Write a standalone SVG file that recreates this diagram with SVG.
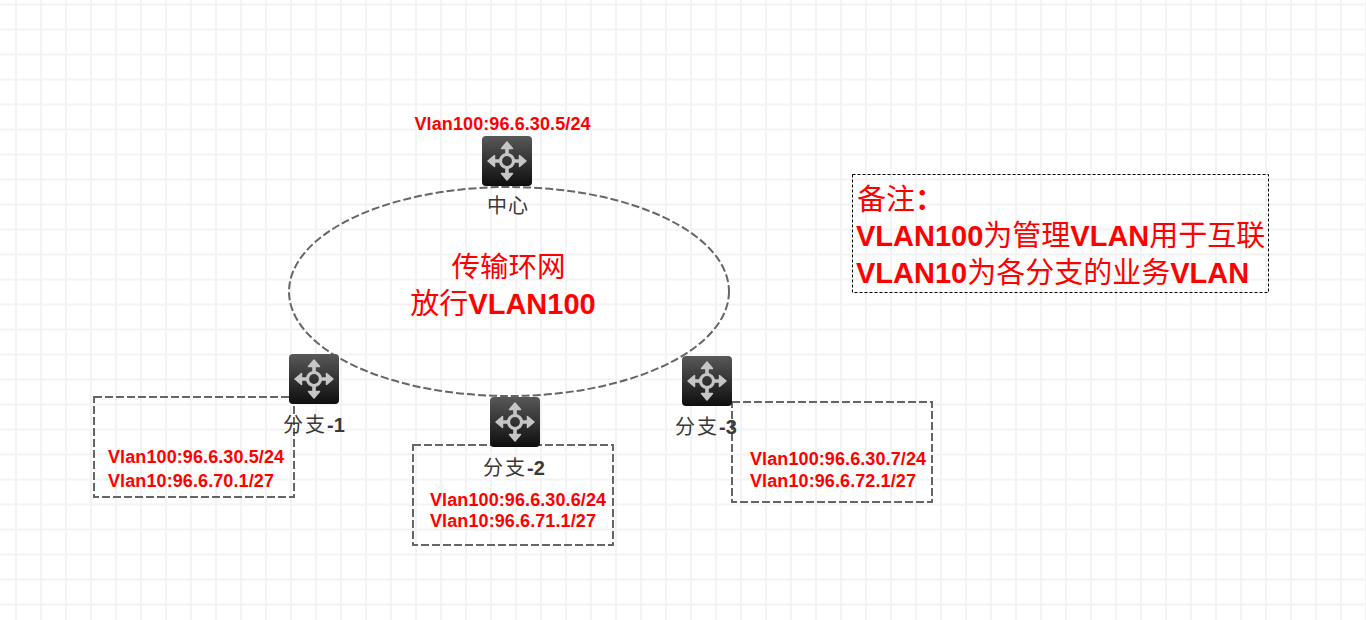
<svg xmlns="http://www.w3.org/2000/svg" width="1366" height="620" viewBox="0 0 1366 620">
<style>
text{font-family:"Liberation Sans","Noto Sans CJK SC",sans-serif}
.big{font-size:29px;font-weight:bold;fill:#ff0000}
.ip{font-size:18px;font-weight:bold;fill:#ff0000;letter-spacing:0.1px}
.name{font-size:20px;font-weight:bold;fill:#3a3a3a}
.cjk{font-weight:normal}
.dash{fill:none;stroke:#666666;stroke-width:2;stroke-dasharray:8 3}
</style>
<defs>
<pattern id="grid" width="25" height="25" patternUnits="userSpaceOnUse" x="15" y="3.500">
<rect width="25" height="25" fill="#ffffff"/>
<path d="M1 0V25M0 1H25" stroke="#f3f3f3" stroke-width="2" fill="none"/>
</pattern>
<linearGradient id="metal" x1="0" y1="0" x2="0" y2="1">
<stop offset="0" stop-color="#585858"/>
<stop offset="1" stop-color="#0e0e0e"/>
</linearGradient>
<g id="sw">
<rect width="50" height="50" rx="4" fill="url(#metal)"/>
<circle cx="25" cy="25" r="6.500" fill="none" stroke="#c6c6c6" stroke-width="3.200"/>
<path d="M25 18V10M25 32V40M18 25H10M32 25H40" stroke="#c6c6c6" stroke-width="3.600"/>
<path d="M25 6L30.500 12.500H19.500ZM25 44L30.500 37.500H19.500ZM6 25L12.500 19.500V30.500ZM44 25L37.500 19.500V30.500Z" fill="#c6c6c6" stroke="#c6c6c6" stroke-width="1.500" stroke-linejoin="round"/>
</g>
</defs>
<rect id="background" width="1366" height="620" fill="url(#grid)"/>
<g id="connectors">
<ellipse class="dash" cx="509" cy="291.500" rx="220" ry="104.500"/>
</g>
<g id="box-1"><rect class="dash" x="94" y="397" width="200" height="100"/>
<text class="ip" x="108" y="463">Vlan100:96.6.30.5/24</text>
<text class="ip" x="108" y="487">Vlan10:96.6.70.1/27</text></g>
<g id="box-2"><rect class="dash" x="413" y="445" width="200" height="100"/>
<text class="ip" x="430" y="506">Vlan100:96.6.30.6/24</text>
<text class="ip" x="430" y="527">Vlan10:96.6.71.1/27</text></g>
<g id="box-3"><rect class="dash" x="732" y="402" width="200" height="100"/>
<text class="ip" x="750" y="465">Vlan100:96.6.30.7/24</text>
<text class="ip" x="750" y="487">Vlan10:96.6.72.1/27</text></g>
<g id="node-center"><use href="#sw" x="482" y="136"/>
<text class="ip" x="414.500" y="130">Vlan100:96.6.30.5/24</text>
<text class="name" x="487" y="213"><tspan class="cjk" letter-spacing="1">中心</tspan></text></g>
<g id="node-branch-1"><use href="#sw" x="289" y="354"/>
<text class="name" x="283" y="432"><tspan class="cjk" letter-spacing="2">分支</tspan>-1</text></g>
<g id="node-branch-2"><use href="#sw" x="490" y="397"/>
<text class="name" x="483" y="475"><tspan class="cjk" letter-spacing="2">分支</tspan>-2</text></g>
<g id="node-branch-3"><use href="#sw" x="682" y="356"/>
<text class="name" x="675" y="434"><tspan class="cjk" letter-spacing="2">分支</tspan>-3</text></g>
<g id="ring-label">
<text class="big" x="508.500" y="277" text-anchor="middle"><tspan class="cjk" font-size="28.500">传输环网</tspan></text>
<text class="big" x="503" y="314" text-anchor="middle"><tspan class="cjk">放行</tspan>VLAN100</text>
</g>
<g id="note">
<rect x="852.500" y="174.500" width="416" height="118" fill="none" stroke="#000000" stroke-width="1" stroke-dasharray="3 2"/>
<text class="big" x="857" y="210"><tspan class="cjk">备注</tspan>：</text>
<text class="big" x="856" y="246">VLAN100<tspan class="cjk">为管理</tspan>VLAN<tspan class="cjk">用于互联</tspan></text>
<text class="big" x="856" y="283">VLAN10<tspan class="cjk">为各分支的业务</tspan>VLAN</text>
</g>
</svg>
